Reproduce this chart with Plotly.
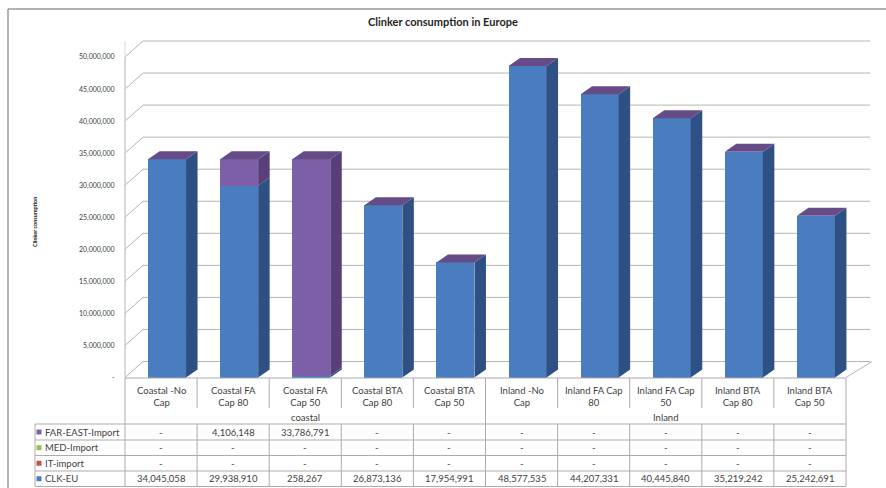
import plotly.graph_objects as go

# ---- data -------------------------------------------------------------
categories = ["Coastal -No Cap", "Coastal FA Cap 80", "Coastal FA Cap 50",
              "Coastal BTA Cap 80", "Coastal BTA Cap 50", "Inland -No Cap",
              "Inland FA Cap 80", "Inland FA Cap 50", "Inland BTA Cap 80",
              "Inland BTA Cap 50"]
header_labels = ["Coastal -No<br>Cap", "Coastal FA<br>Cap 80", "Coastal FA<br>Cap 50",
                 "Coastal BTA<br>Cap 80", "Coastal BTA<br>Cap 50", "Inland -No<br>Cap",
                 "Inland FA Cap<br>80", "Inland FA Cap<br>50", "Inland BTA<br>Cap 80",
                 "Inland BTA<br>Cap 50"]
groups = ["coastal", "Inland"]
group_size = 5

clk_eu = [34045058, 29938910, 258267, 26873136, 17954991,
          48577535, 44207331, 40445840, 35219242, 25242691]
it_import = [0, 0, 0, 0, 0, 0, 0, 0, 0, 0]
med_import = [0, 0, 0, 0, 0, 0, 0, 0, 0, 0]
far_east_import = [0, 4106148, 33786791, 0, 0, 0, 0, 0, 0, 0]

y_ticks = [0, 5e6, 10e6, 15e6, 20e6, 25e6, 30e6, 35e6, 40e6, 45e6, 50e6]

# ---- styling ----------------------------------------------------------
W, H = 886, 488
FONT = "Lato"
TXT = "#404040"
GRID = "#B4B4B4"
TABLE_LINE = "#ABABAB"

series = [  # bottom to top of the stack
    ("CLK-EU", clk_eu, "#4A7DBF", "#2E5082"),
    ("IT-import", it_import, "#C0504D", "#8C3836"),
    ("MED-Import", med_import, "#9BBB59", "#71893F"),
    ("FAR-EAST-Import", far_east_import, "#7C5FA6", "#573F7A"),
]
TOP_FACE = "#654C86"

# pixel geometry of the plotting frame (margins are zero, so paper == pixels)
COL_LEFT, COL_W = 125, 72.1          # left edge of the first category column
Y_BASE, PX_PER_M = 377.5, 6.41       # pixel row of value 0, pixels per million
WALL_DX_L, WALL_DX_R, WALL_DY = 18, 26, 16


def px_x(p):
    return -0.5 + (p - COL_LEFT) / COL_W


def px_dy(p):
    return p / PX_PER_M * 1e6


def py(p):
    return 1 - p / H


def fmt(v):
    return "-" if v == 0 else f"{v:,.0f}"


n = len(categories)
x_range = [px_x(0), px_x(W)]
y_range = [px_dy(Y_BASE - H), px_dy(Y_BASE)]

FRONT_OFF = 6 / COL_W
BAR_W = 38 / COL_W
SIDE_DX = 11.5 / COL_W
TOP_DY = px_dy(8)
WALL_V = px_dy(WALL_DY)

fig = go.Figure()

# front faces of the stacked columns
xpos = [i + FRONT_OFF for i in range(n)]
for name, vals, front, side in series:
    fig.add_trace(go.Bar(x=xpos, y=vals, width=BAR_W, name=name,
                         marker=dict(color=front, line=dict(width=0)),
                         showlegend=False, hoverinfo="skip"))

# side faces (one polygon per visible segment)
base = [0.0] * n
for name, vals, front, side in series:
    xs, ys = [], []
    for i, v in enumerate(vals):
        if v > 0:
            xr = xpos[i] + BAR_W / 2
            b, t = base[i], base[i] + v
            xs += [xr, xr + SIDE_DX, xr + SIDE_DX, xr, xr, None]
            ys += [b, b + TOP_DY, t + TOP_DY, t, b, None]
        base[i] += v
    if xs:
        fig.add_trace(go.Scatter(x=xs, y=ys, mode="lines", fill="toself",
                                 fillcolor=side, line=dict(width=0, color=side),
                                 showlegend=False, hoverinfo="skip"))

# top faces
xs, ys = [], []
for i in range(n):
    xl = xpos[i] - BAR_W / 2
    xr = xpos[i] + BAR_W / 2
    t = base[i]
    xs += [xl, xr, xr + SIDE_DX, xl + SIDE_DX, xl, None]
    ys += [t, t, t + TOP_DY, t + TOP_DY, t, None]
fig.add_trace(go.Scatter(x=xs, y=ys, mode="lines", fill="toself",
                         fillcolor=TOP_FACE, line=dict(width=0, color=TOP_FACE),
                         showlegend=False, hoverinfo="skip"))

shapes = []


def line(x0, y0, x1, y1, color, width=1, xref="paper", yref="paper", layer="below"):
    shapes.append(dict(type="line", x0=x0, y0=y0, x1=x1, y1=y1, xref=xref, yref=yref,
                       line=dict(color=color, width=width), layer=layer))


# back wall gridlines and left-wall depth lines
xl_back = px_x(COL_LEFT + WALL_DX_L)
xr_back = px_x(846 + WALL_DX_R - 2)
for v in y_ticks:
    line(xl_back, v + WALL_V, xr_back, v + WALL_V, GRID, 1, "x", "y")
    line(px_x(COL_LEFT), v, xl_back, v + WALL_V, GRID, 1, "x", "y")
# left axis edge and floor
line(px_x(COL_LEFT), 0, px_x(COL_LEFT), y_ticks[-1], GRID, 1, "x", "y")
line(px_x(COL_LEFT), WALL_V, px_x(COL_LEFT), y_ticks[-1] + WALL_V, "#D8D8D8", 1, "x", "y")
line(px_x(846), 0, px_x(846 + WALL_DX_R), WALL_V, GRID, 1, "x", "y")

# chart frame
line(8 / W, py(9), 8 / W, 0, "#9A9A9A", 1.5, layer="above")
line(8 / W, py(9), 1, py(9), "#9A9A9A", 1.5, layer="above")

# ---- data table ------------------------------------------------------
T_TOP, T_HDR_SPLIT, T_ROWS = 378, 408, [424, 440, 455.5, 471, 486.5]
LEG_LEFT = 35
edges = [i - 0.5 for i in range(n + 1)]
line(px_x(COL_LEFT), py(T_TOP), px_x(846), py(T_TOP), TABLE_LINE, 1, "x", "paper", "above")
for yy in T_ROWS:
    line(px_x(LEG_LEFT), py(yy), edges[-1], py(yy), TABLE_LINE, 1, "x", "paper", "above")
line(px_x(LEG_LEFT), py(T_ROWS[0]), px_x(LEG_LEFT), py(T_ROWS[-1]), TABLE_LINE, 1, "x", "paper", "above")
for k, e in enumerate(edges):
    full = k == 0 or k == n or k % group_size == 0
    if full:
        line(e, py(T_TOP), e, py(T_ROWS[-1]), TABLE_LINE, 1, "x", "paper", "above")
    else:
        # inner column lines skip the group label band
        line(e, py(T_TOP), e, py(T_HDR_SPLIT), TABLE_LINE, 1, "x", "paper", "above")
        line(e, py(T_ROWS[0]), e, py(T_ROWS[-1]), TABLE_LINE, 1, "x", "paper", "above")

annotations = []


def text(x, y, s, xref="x", size=9.5, xanchor="center", **kw):
    annotations.append(dict(x=x, y=y, xref=xref, yref="paper", text=s, showarrow=False,
                            xanchor=xanchor, yanchor="middle",
                            font=dict(family=FONT, size=size, color=kw.pop("color", TXT)),
                            **kw))


for i, lab in enumerate(header_labels):
    text(i, py(396.5), lab)
for g, gname in enumerate(groups):
    text(g * group_size + (group_size - 1) / 2, py(417.5), gname)

rows = list(reversed(series))  # FAR-EAST first, CLK-EU last
for r, (name, vals, front, side) in enumerate(rows):
    y0, y1 = T_ROWS[r], T_ROWS[r + 1]
    yc = (y0 + y1) / 2
    shapes.append(dict(type="rect", x0=(LEG_LEFT + 1.5) / W, x1=(LEG_LEFT + 6.5) / W,
                       y0=py(yc + 2.5), y1=py(yc - 2.5), xref="paper", yref="paper",
                       fillcolor=front, line=dict(width=0), layer="above"))
    text((LEG_LEFT + 8) / W, py(yc), name, xref="paper", xanchor="left")
    for i, v in enumerate(vals):
        text(i, py(yc), fmt(v))

# titles
text(443 / W, py(22), "<b>Clinker consumption in Europe</b>", xref="paper", size=11,
     color="#1F1F1F")
text(35 / W, py(222), "<b>Clinker consumption</b>", xref="paper", size=5.5,
     color="#202020", textangle=-90)

fig.update_layout(
    width=W, height=H, margin=dict(l=0, r=0, t=0, b=0),
    paper_bgcolor="white", plot_bgcolor="white",
    barmode="stack", bargap=0,
    xaxis=dict(range=x_range, visible=False, fixedrange=True),
    yaxis=dict(range=y_range, anchor="free", position=COL_LEFT / W,
               tickvals=y_ticks, ticktext=[fmt(v) for v in y_ticks],
               ticks="outside", ticklen=9, tickcolor="rgba(0,0,0,0)",
               showgrid=False, zeroline=False, showline=False,
               tickfont=dict(family=FONT, size=7, color=TXT), fixedrange=True),
    shapes=shapes, annotations=annotations, showlegend=False,
)

fig.write_html("out.html")
